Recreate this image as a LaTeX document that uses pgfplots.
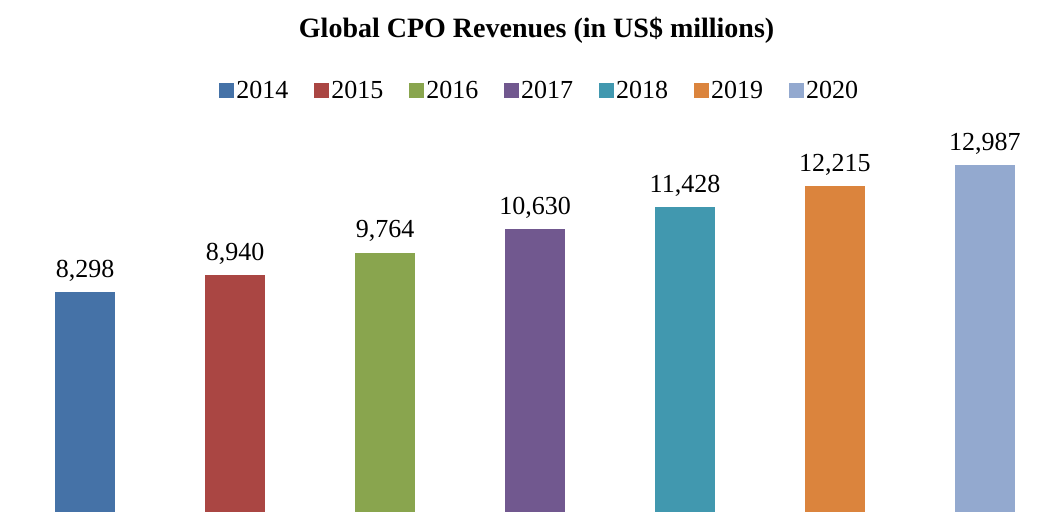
\documentclass[border=0pt]{standalone}
\usepackage{pgfplots}
\pgfplotsset{compat=1.18}
\usepackage{fontspec}
\setmainfont{Liberation Serif}
\definecolor{c1}{HTML}{4572A7}
\definecolor{c2}{HTML}{AA4643}
\definecolor{c3}{HTML}{89A54E}
\definecolor{c4}{HTML}{71588F}
\definecolor{c5}{HTML}{4198AF}
\definecolor{c6}{HTML}{DB843D}
\definecolor{c7}{HTML}{93A9CF}
\begin{document}
\begin{tikzpicture}
\begin{axis}[
  scale only axis,
  width=1046bp, height=512bp,
  xmin=-0.567, xmax=6.407,
  ymin=185, ymax=19085,
  hide axis,
  ybar, bar width=60bp, bar shift=0pt,
  /pgf/number format/assume math mode=true,
  /pgf/number format/1000 sep={,},
  nodes near coords,
  every node near coord/.append style={font=\fontsize{26bp}{30bp}\selectfont, yshift=7bp},
  legend columns=7,
  legend style={draw=none, fill=none, at={(rel axis cs:0.516,0.824)}, anchor=center,
    font=\fontsize{26bp}{30bp}\selectfont,
    /tikz/every odd column/.append style={column sep=0bp},
    /tikz/every even column/.append style={column sep=24bp}},
  legend image code/.code={\fill[#1] (0bp,-7.5bp) rectangle (15bp,7.5bp);},
  clip=false,
]
\addplot[fill=c1, draw=none] coordinates {(0,8298)};
\addplot[fill=c2, draw=none] coordinates {(1,8940)};
\addplot[fill=c3, draw=none] coordinates {(2,9764)};
\addplot[fill=c4, draw=none] coordinates {(3,10630)};
\addplot[fill=c5, draw=none] coordinates {(4,11428)};
\addplot[fill=c6, draw=none] coordinates {(5,12215)};
\addplot[fill=c7, draw=none] coordinates {(6,12987)};
\legend{2014,2015,2016,2017,2018,2019,2020}
\node[font=\bfseries\fontsize{28bp}{32bp}\selectfont] at (rel axis cs:0.513,0.941) {Global CPO Revenues (in US\$ millions)};
\path (rel axis cs:0,0) rectangle (rel axis cs:1,1);
\end{axis}
\end{tikzpicture}
\end{document}
